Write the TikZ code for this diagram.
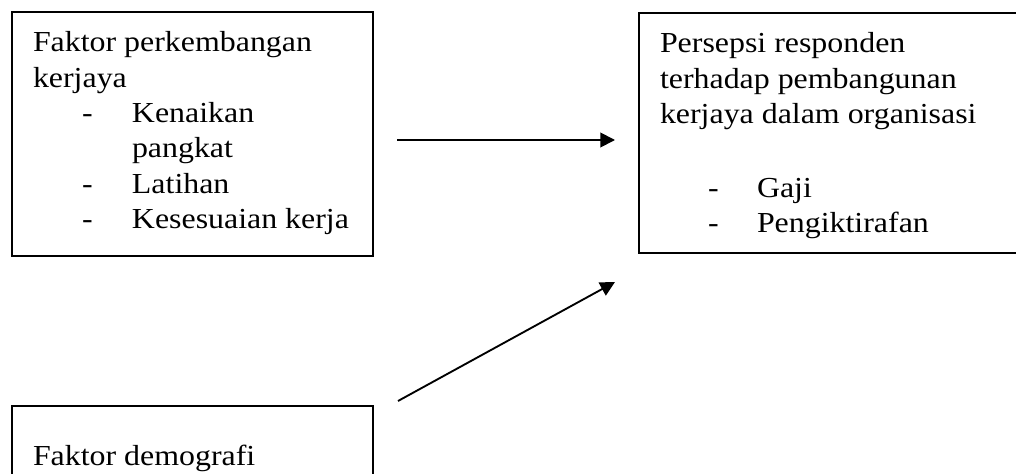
\documentclass[tikz,border=0pt]{standalone}
\usepackage{fontspec}
\setmainfont{Liberation Serif}[FakeStretch=1.1]
\usetikzlibrary{arrows.meta}
\newcommand{\dashitem}[3]{\hspace*{#1}\makebox[#2][l]{-}#3}
\begin{document}
\begin{tikzpicture}[x=0.75pt,y=-0.75pt,
  box/.style={draw,line width=1.4pt,inner sep=0pt,outer sep=0pt,anchor=north west},
  lbl/.style={anchor=base west,inner sep=0pt,outer sep=0pt},
  conn/.style={line width=1.4pt,-{Triangle[length=11pt,width=11pt]}}]
\clip (0,0) rectangle (1016,474);
\fill[white] (0,0) rectangle (1016,474);
\node[box,minimum width=270.75pt,minimum height=183pt] (b1) at (12,12) {};
\node[box,minimum width=293.25pt,minimum height=180pt] (b2) at (639,13) {};
\node[box,minimum width=270.75pt,minimum height=75pt] (b3) at (12,406) {};
\node[lbl] (t1) at (33,52) {\parbox[t]{300pt}{\fontsize{21.75pt}{26.5pt}\selectfont\raggedright
Faktor perkembangan\\
kerjaya\\
\dashitem{36.75pt}{37.5pt}{Kenaikan}\\
\hspace*{74.25pt}pangkat\\
\dashitem{36.75pt}{37.5pt}{Latihan}\\
\dashitem{36.75pt}{37.5pt}{Kesesuaian kerja}}};
\node[lbl] (t2) at (660,53) {\parbox[t]{300pt}{\fontsize{21.75pt}{26.5pt}\selectfont\raggedright
Persepsi responden\\
terhadap pembangunan\\
kerjaya dalam organisasi\\[29pt]
\dashitem{36pt}{36.75pt}{Gaji}\\
\dashitem{36pt}{36.75pt}{Pengiktirafan}}};
\node[lbl] (t3) at (33,465) {\fontsize{21.75pt}{26.5pt}\selectfont Faktor demografi};
\coordinate (a1s) at (397,140);
\coordinate (a1e) at (615,140);
\coordinate (a2s) at (398,401);
\coordinate (a2e) at (615,282);
\draw[conn] (a1s) -- (a1e);
\draw[conn] (a2s) -- (a2e);
\end{tikzpicture}
\end{document}
